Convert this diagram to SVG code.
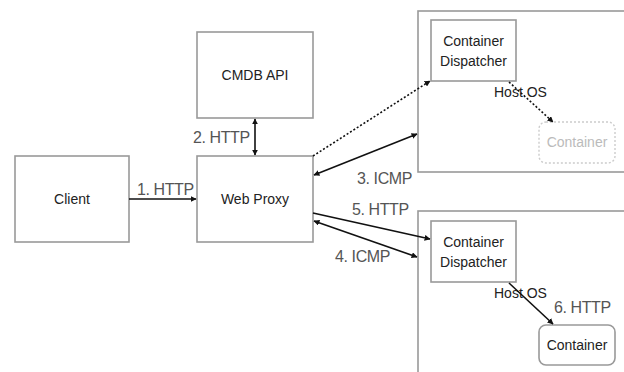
<svg xmlns="http://www.w3.org/2000/svg" width="624" height="372" viewBox="0 0 624 372">
  <style>
    .box { fill: #fff; stroke: #999; stroke-width: 1.6; }
    .host { fill: #fff; stroke: #999; stroke-width: 1.6; }
    .name { font-family: "Liberation Sans", Arial, sans-serif; font-size: 14px; fill: #222; text-anchor: middle; }
    .lbl { font-family: "Liberation Sans", Arial, sans-serif; font-size: 16px; fill: #555; letter-spacing: -0.4px; }
    .os { font-family: "Liberation Sans", Arial, sans-serif; font-size: 14px; fill: #222; }
    .ln { fill: none; stroke: #111; stroke-width: 1.6; }
    .dot { fill: none; stroke: #111; stroke-width: 1.6; stroke-dasharray: 2 2; }
  </style>
  <defs>
    <marker id="ah" viewBox="0 0 10 10" refX="9" refY="5" markerWidth="6" markerHeight="6" orient="auto-start-reverse" markerUnits="userSpaceOnUse">
      <path d="M0,0 L10,5 L0,10 z" fill="#111"/>
    </marker>
  </defs>
  <rect width="624" height="372" fill="#fff"/>

  <!-- host machines -->
  <g id="host1">
    <rect class="host" x="418" y="11" width="210" height="161"/>
    <text class="os" x="494" y="97">Host OS</text>
  </g>
  <g id="host2">
    <rect class="host" x="418" y="211" width="210" height="170"/>
    <text class="os" x="494" y="298">Host OS</text>
  </g>

  <g id="client">
    <rect class="box" x="15" y="156" width="114" height="86"/>
    <text class="name" x="72" y="204">Client</text>
  </g>
  <g id="cmdb">
    <rect class="box" x="197" y="32" width="116" height="86"/>
    <text class="name" x="255" y="80">CMDB API</text>
  </g>
  <g id="proxy">
    <rect class="box" x="197" y="156" width="116" height="86"/>
    <text class="name" x="255" y="204">Web Proxy</text>
  </g>
  <g id="dispatcher1">
    <rect class="box" x="431" y="20" width="85" height="61"/>
    <text class="name" x="473.5" y="46">Container</text>
    <text class="name" x="473.5" y="66">Dispatcher</text>
  </g>
  <g id="container1">
    <rect x="539" y="122" width="76" height="41" rx="7" fill="#fff" stroke="#ccc" stroke-width="1.4" stroke-dasharray="2 2"/>
    <text class="name" x="577" y="147" style="fill:#bbb">Container</text>
  </g>
  <g id="dispatcher2">
    <rect class="box" x="431" y="221" width="85" height="61"/>
    <text class="name" x="473.5" y="247">Container</text>
    <text class="name" x="473.5" y="267">Dispatcher</text>
  </g>
  <g id="container2">
    <rect x="539" y="325" width="76" height="40" rx="7" fill="#fff" stroke="#999" stroke-width="1.6"/>
    <text class="name" x="577" y="350">Container</text>
  </g>

  <g id="connectors">
    <line class="ln" x1="129" y1="199" x2="196" y2="199" marker-end="url(#ah)"/>
    <line class="ln" x1="255" y1="119" x2="255" y2="155" marker-start="url(#ah)" marker-end="url(#ah)"/>
    <line class="dot" x1="313" y1="156" x2="430" y2="81" marker-end="url(#ah)"/>
    <line class="ln" x1="314" y1="175" x2="417" y2="134" marker-start="url(#ah)" marker-end="url(#ah)"/>
    <line class="ln" x1="313" y1="213" x2="430" y2="239" marker-end="url(#ah)"/>
    <line class="ln" x1="314" y1="221" x2="417" y2="257" marker-start="url(#ah)" marker-end="url(#ah)"/>
    <line class="dot" x1="509" y1="82" x2="553" y2="122" marker-end="url(#ah)"/>
    <line class="ln" x1="509" y1="283" x2="553" y2="324" marker-end="url(#ah)"/>
  </g>

  <g id="labels">
    <text class="lbl" x="137" y="195">1. HTTP</text>
    <text class="lbl" x="193" y="143">2. HTTP</text>
    <text class="lbl" x="357" y="184">3. ICMP</text>
    <text class="lbl" x="335" y="262">4. ICMP</text>
    <text class="lbl" x="352" y="215">5. HTTP</text>
    <text class="lbl" x="554" y="313">6. HTTP</text>
  </g>
</svg>
